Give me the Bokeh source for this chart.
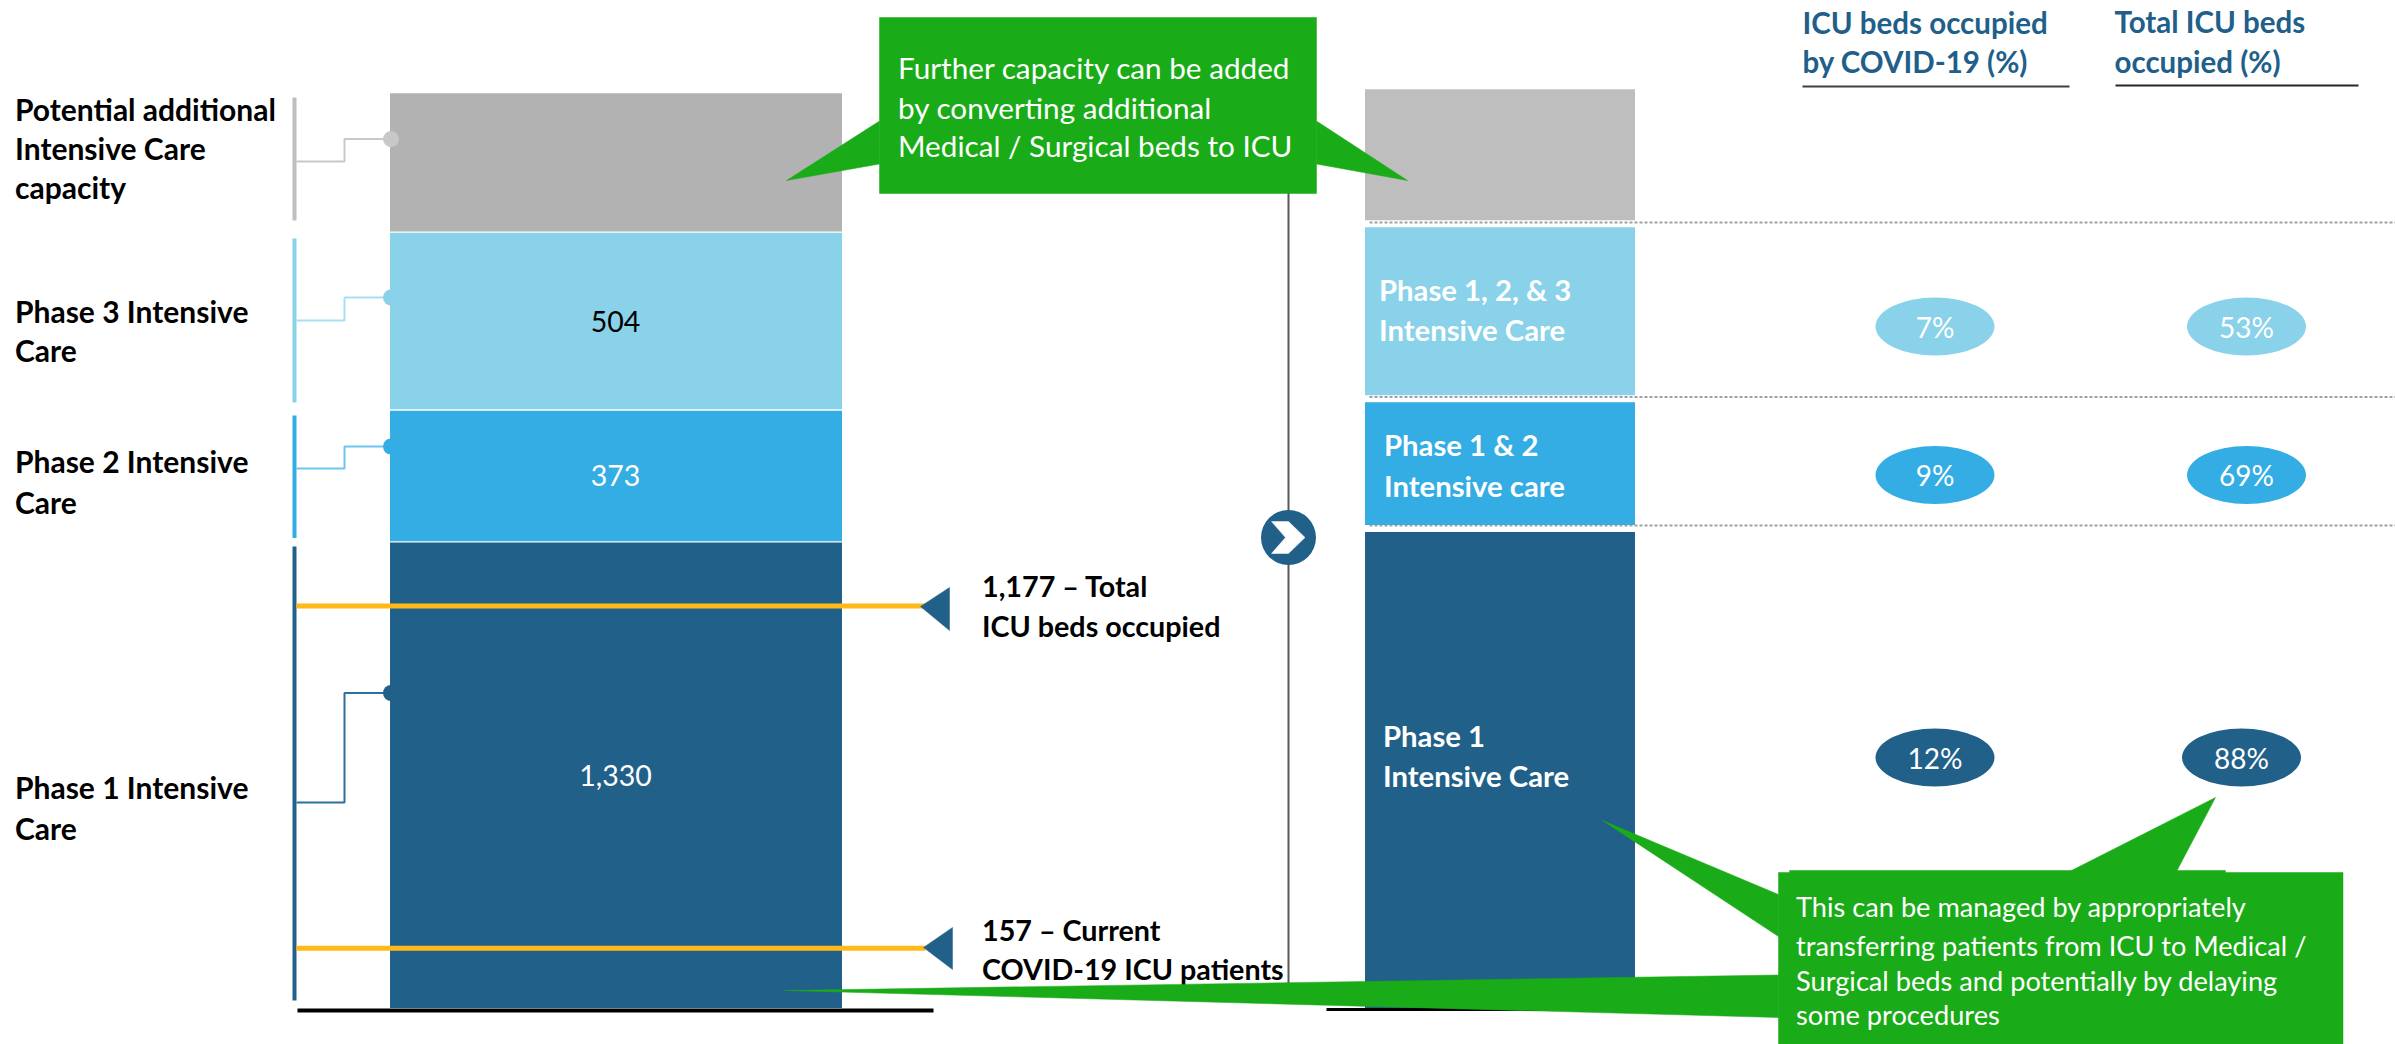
from bokeh.embed import file_html
from bokeh.resources import INLINE
from bokeh.plotting import figure
from bokeh.models import Range1d
from bokeh.core.properties import value

# ---------- data ----------
stack_names = ["Phase 1 Intensive Care", "Phase 2 Intensive Care", "Phase 3 Intensive Care", "Potential additional Intensive Care capacity"]
stack_beds = [1330, 373, 504, 395]
stack_labels = ["1,330", "373", "504", ""]
stack_label_colors = ["#FFFFFF", "#FFFFFF", "#000000", "#000000"]
stack_colors = ["#216089", "#33ADE3", "#89D2E9", "#B2B2B2"]
stack_gap = 4

right_beds = [1360, 351, 480, 374]
right_gaps = [0, 20, 20, 20]
right_colors = ["#216089", "#33ADE3", "#89D2E9", "#BEBEBE"]

marker_levels = [171, 1149]

covid_pct = ["12%", "9%", "7%"]
total_pct = ["88%", "69%", "53%"]
pct_colors = ["#216089", "#33ADE3", "#89D2E9"]

GREEN = "#1AAB18"
DARK = "#216089"
YELLOW = "#FFBA1A"
FONT = value("Lato")

# figure coordinates equal reference pixels
W, H = 2395, 1044
BASE_PX = 1007.6
PX_PER_BED = 0.35

p = figure(width=W, height=H, output_backend="svg", toolbar_location=None,
           x_range=Range1d(0, W), y_range=Range1d(H, 0), min_border=0,
           background_fill_color="white", border_fill_color="white")
p.axis.visible = False
p.grid.visible = False
p.outline_line_color = None
p.extra_y_ranges = {"beds": Range1d((BASE_PX - H) / PX_PER_BED, BASE_PX / PX_PER_BED)}


def poly(xs, ys, color):
    p.patch(xs, ys, fill_color=color, line_color=color, line_width=0.5)


def txt(x, y, lines, size, color="#000000", bold=False, align="left"):
    p.text(x=x, y=y, text=lines, text_font=FONT, text_font_size=f"{size}px", text_color=color,
           text_font_style="bold" if bold else "normal", text_baseline="middle", text_align=align)


# baseline rules
p.line([297, 933], [1010, 1010], line_color="#000000", line_width=4)
p.line([1326, 1640], [1009, 1009], line_color="#000000", line_width=3)
# centre divider
p.line([1288, 1288], [150, 995], line_color="#595959", line_width=2)

# dashed row separators
for yd in [222, 396.5, 525]:
    p.line([1369, 2395], [yd, yd], line_color="#A0A0A0", line_width=2, line_dash="3 2")

# left stacked column
bottom = 0
lbl_y = []
for i, v in enumerate(stack_beds):
    p.vbar(x=[615.5], width=452, bottom=[bottom], top=[bottom + v], fill_color=stack_colors[i],
           line_color=None, y_range_name="beds")
    lbl_y.append(bottom + v / 2)
    bottom += v + stack_gap

# right column
bottom = 0
for i, v in enumerate(right_beds):
    bottom += right_gaps[i]
    p.vbar(x=[1499.5], width=270, bottom=[bottom], top=[bottom + v], fill_color=right_colors[i],
           line_color=None, y_range_name="beds")
    bottom += v

# left brackets and connectors
bracket_y = [(546, 1000), (415, 537.5), (238, 402), (97, 220)]
bracket_col = [DARK, "#33ADE3", "#89D2E9", "#BEBEBE"]
conn_col = ["#2F6F9B", "#6CC5EC", "#A8DFF0", "#C8C8C8"]
conn_y = [(802, 692.5), (468, 446), (320, 297), (161, 138.6)]
for (a, b), c, cc, (c1, c2) in zip(bracket_y, bracket_col, conn_col, conn_y):
    p.line([294, 294], [a, b], line_color=c, line_width=4)
    p.line([296, 344, 344, 390], [c1, c1, c2, c2], line_color=cc, line_width=2)
    p.ellipse(x=[390.5], y=[c2], width=16, height=16, fill_color=c if c != "#BEBEBE" else "#C8C8C8", line_color=None)

# marker lines
for lv in marker_levels:
    p.line([296, 925], [BASE_PX - lv * PX_PER_BED] * 2, line_color=YELLOW, line_width=5)
poly([949, 949, 920], [587, 630, 606], DARK)
poly([952, 952, 923], [927, 969, 947], DARK)

# chevron button
p.ellipse(x=[1288], y=[537], width=55, height=55, fill_color=DARK, line_color=None)
poly([1271, 1288, 1304.5, 1288, 1271, 1285], [521, 521, 537, 553, 553, 537], "#FFFFFF")

# percentage bubbles
rows_y = [757, 474.5, 326]
x_a = [1934.5, 1934.5, 1934.5]
x_b = [2241, 2246, 2246]
for i in range(3):
    p.ellipse(x=[x_a[i]], y=[rows_y[i]], width=119, height=58, fill_color=pct_colors[i], line_color=None)
    p.ellipse(x=[x_b[i]], y=[rows_y[i]], width=119, height=58, fill_color=pct_colors[i], line_color=None)
    txt(x_a[i], rows_y[i], [covid_pct[i]], 28, "#FFFFFF", align="center")
    txt(x_b[i], rows_y[i], [total_pct[i]], 28, "#FFFFFF", align="center")

# headers
HC = "#215F8A"
txt(1802, 22, ["ICU beds occupied"], 29.5, HC, True)
txt(1802, 61, ["by COVID-19 (%)"], 29.5, HC, True)
txt(2114, 21, ["Total ICU beds"], 29.5, HC, True)
txt(2114, 61, ["occupied (%)"], 29.5, HC, True)
p.line([1802, 2069], [86, 86], line_color="#404040", line_width=2)
p.line([2115, 2358], [85, 85], line_color="#262626", line_width=2)

# left labels
for y, s in [(108, "Potential additional"), (147, "Intensive Care"), (186.5, "capacity"),
             (310, "Phase 3 Intensive"), (349, "Care"),
             (460, "Phase 2 Intensive"), (501, "Care"),
             (786, "Phase 1 Intensive"), (827, "Care")]:
    txt(14.5, y, [s], 30, "#000000", True)

# bar value labels
for lab, lc, ly in zip(stack_labels, stack_label_colors, lbl_y):
    if lab:
        p.text(x=[615], y=[ly], text=[lab], text_font=FONT, text_font_size="28.5px", text_color=lc,
               text_baseline="middle", text_align="center", y_range_name="beds")

# marker annotations
for y, s in [(585, "1,177 – Total"), (625, "ICU beds occupied"), (929.5, "157 – Current"), (968.5, "COVID-19 ICU patients")]:
    txt(981.5, y, [s], 28.7, "#000000", True)

# labels on right column
for x, y, s in [(1378.5, 289, "Phase 1, 2, & 3"), (1378.5, 329, "Intensive Care"),
                (1383.5, 444, "Phase 1 & 2"), (1383.5, 485, "Intensive care"),
                (1382.5, 735, "Phase 1"), (1382.5, 775, "Intensive Care")]:
    txt(x, y, [s], 29.3, "#FFFFFF", True)

# green call-outs
poly([879, 786, 879], [120.5, 180, 163.5], GREEN)
poly([1316, 1407, 1316], [120.5, 180, 163.5], GREEN)
poly([879, 1316, 1316, 879], [17, 17, 193, 193], GREEN)
for y, s in [(67, "Further capacity can be added"), (107, "by converting additional"), (145, "Medical / Surgical beds to ICU")]:
    txt(897.5, y, [s], 29.7, "#FFFFFF")

poly([1778, 1602, 1778], [894, 820, 936], GREEN)
poly([2069, 2215, 2176], [871, 797, 871], GREEN)
poly([1778, 784, 1778], [974.5, 990, 1017], GREEN)
poly([1778, 1789, 1789, 2225, 2225, 2342.5, 2342.5, 1778], [872, 872, 870, 870, 872, 872, 1044, 1044], GREEN)
for y, s in [(906, "This can be managed by appropriately"), (944.5, "transferring patients from ICU to Medical /"),
             (980, "Surgical beds and potentially by delaying"), (1014, "some procedures")]:
    txt(1795.5, y, [s], 27.2, "#FFFFFF")

open("out.html", "w").write(file_html(p, INLINE))
